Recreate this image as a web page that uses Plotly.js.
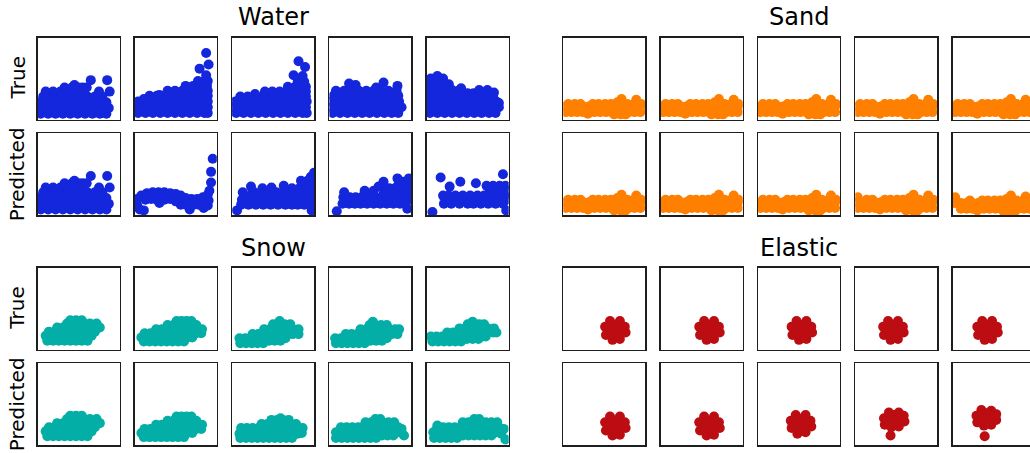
<!DOCTYPE html>
<html>
<head>
<meta charset="utf-8">
<script src="https://cdn.plot.ly/plotly-3.0.1.min.js"></script>
<style>
  html, body { margin: 0; padding: 0; overflow: hidden; background: #ffffff; }
  #plot { width: 1040px; height: 453px; }
</style>
</head>
<body>
<div id="plot"></div>
<script>
// Particle snapshots, one panel per time step. Every panel lives in a 0..100 box.
// Each row is [y, x1, x2, ...]: a y level followed by the x positions of the particles on it.

const materials = ['Water', 'Sand', 'Snow', 'Elastic'];
const rowLabels = ['True', 'Predicted'];

// ---- Water ----
const waterTrue1 = [
  [7, 4, 13, 22, 31, 40, 49, 58, 67, 76, 84],
  [14, 3, 8, 17, 26, 35, 44, 53, 62, 71, 80, 87],
  [21, 3, 12, 21, 30, 39, 48, 57, 66, 75, 84],
  [28, 7, 16, 25, 34, 43, 52, 61, 70, 79],
  [34, 10, 19, 28, 37, 46, 55, 75, 88],
  [39, 33, 42, 50, 55, 60],
  [42, 45],
  [48, 65, 85]
];
const waterTrue2 = [
  [8, 4, 13, 22, 31, 40, 49, 58, 67, 76, 85, 89],
  [15, 3, 9, 18, 27, 36, 45, 54, 63, 72, 81, 89],
  [22, 4, 12, 22, 31, 40, 49, 58, 67, 76, 85, 89],
  [25, 11],
  [29, 18, 27, 36, 45, 54, 63, 72, 81, 89],
  [30, 30],
  [35, 40, 49, 58, 67, 76, 85, 89],
  [41, 62, 71, 80, 88],
  [47, 77, 85, 89],
  [54, 87], [62, 79], [67, 90], [81, 87]
];
const waterTrue3 = [
  [8, 5, 14, 23, 32, 41, 50, 59, 68, 77, 86, 91],
  [15, 3, 10, 19, 28, 37, 46, 55, 64, 73, 82, 90],
  [22, 4, 13, 22, 31, 40, 49, 58, 67, 76, 85, 91],
  [28, 10, 19, 28, 37, 46, 55, 64, 73, 82, 90],
  [31, 28],
  [34, 40, 49, 58, 67, 76, 85, 90],
  [40, 68, 77, 86, 90],
  [46, 80, 88],
  [53, 86], [54, 75], [64, 89], [71, 81]
];
const waterTrue4 = [
  [8, 4, 13, 22, 31, 40, 49, 58, 67, 76, 84],
  [15, 3, 9, 18, 27, 36, 45, 54, 63, 72, 81, 88],
  [22, 3, 13, 22, 31, 40, 49, 58, 67, 76, 85],
  [29, 5, 14, 23, 32, 41, 50, 59, 68, 77, 84],
  [35, 8, 18, 27, 36, 45, 54, 63, 72, 82],
  [39, 57], [41, 83], [42, 32], [44, 24], [45, 66]
];
const waterTrue5 = [
  [8, 4, 13, 22, 31, 40, 49, 58, 67, 76, 84],
  [15, 3, 9, 18, 27, 36, 45, 54, 63, 72, 81, 88],
  [20, 88],
  [22, 3, 13, 22, 31, 40, 49, 58, 67, 76, 85],
  [29, 3, 9, 18, 27, 36, 45, 54, 63, 72, 81],
  [32, 50, 57],
  [33, 82],
  [36, 3, 13, 22, 31, 40, 64, 74],
  [38, 42],
  [43, 3, 10, 18, 27],
  [50, 5, 13, 20],
  [53, 13]
];
const waterPred1 = waterTrue1;
const waterPred2 = [
  [6, 11], [7, 6, 67], [9, 84],
  [12, 3, 89],
  [13, 56, 62, 72, 78],
  [15, 30, 66, 73, 80, 86],
  [17, 50],
  [18, 90],
  [19, 13, 27, 36],
  [20, 3, 20, 43, 69, 76],
  [21, 62],
  [22, 83],
  [24, 8, 56],
  [25, 89],
  [26, 50],
  [27, 15, 43],
  [28, 22, 29, 36],
  [30, 91], [40, 93], [53, 93], [69, 95]
];
const waterPred3 = [
  [6, 6, 97],
  [13, 11, 20, 29, 38, 47, 56, 65, 73, 80, 88, 96],
  [19, 12, 16, 25, 34, 43, 52, 61, 69, 77, 84, 92, 99],
  [24, 22, 31, 40, 48, 57, 64, 72, 80, 88, 97],
  [28, 13, 27, 36, 45, 54, 62, 70, 78, 86, 93],
  [33, 37, 73, 82, 90, 97],
  [34, 48],
  [35, 23],
  [36, 63],
  [38, 88, 95],
  [42, 84, 92, 98],
  [47, 96],
  [52, 100]
];
const waterPred4 = [
  [5, 9],
  [8, 95],
  [14, 16, 24, 31, 38, 46, 54, 62, 70, 78, 86],
  [18, 20, 28, 35, 42, 50, 58, 66, 74, 82, 90, 96],
  [22, 17, 25, 32, 39, 47, 55, 63, 71, 79, 87],
  [26, 66, 74, 82, 90, 97],
  [28, 18],
  [30, 43, 54, 70, 78, 86, 94],
  [33, 66, 73, 80, 88],
  [35, 60],
  [37, 84, 92, 98],
  [41, 66, 90],
  [45, 83, 97]
];
const waterPred5 = [
  [4, 7], [6, 97],
  [14, 21, 30, 40, 50, 57, 66, 75, 84, 93],
  [19, 25, 35, 45, 54, 62, 71, 80, 89, 97],
  [24, 20, 27, 35, 44, 53, 62, 70, 79, 87, 95],
  [30, 77, 85, 92, 99],
  [36, 73, 81, 89, 96],
  [35, 28], [41, 41], [39, 60], [46, 17], [50, 93]
];

// ---- Sand ----
const sandTrue = [
  [6, 62, 70, 76],
  [7, 30],
  [9, 3, 10, 17, 24, 31, 38, 45, 52, 59, 66, 73, 80, 87, 94],
  [16, 3, 10, 17, 24, 31, 38, 45, 52, 59, 66, 73, 80, 87, 94],
  [19, 6, 14, 21, 36, 43, 51, 58, 78, 86, 95],
  [21, 66],
  [24, 89],
  [25, 71]
];
const sandPred4 = [
  [6, 62, 70, 76],
  [7, 30],
  [9, 3, 10, 17, 24, 31, 38, 45, 52, 59, 66, 73, 80, 87, 94],
  [16, 3, 10, 17, 24, 31, 38, 45, 52, 59, 66, 73, 80, 87, 94],
  [19, 14, 21, 36, 43, 51, 58, 78, 86, 95],
  [21, 66],
  [22, 3],
  [24, 89],
  [25, 71]
];
const sandPred5 = [
  [5, 62, 70, 76],
  [6, 30],
  [8, 10, 17, 24, 31, 38, 45, 52, 59, 66, 73, 80, 87, 94],
  [15, 3, 10, 17, 24, 31, 38, 45, 52, 59, 66, 73, 80, 87, 94],
  [18, 21, 36, 43, 51, 58, 78, 86, 95],
  [20, 66],
  [22, 3],
  [23, 89],
  [24, 71]
];

// ---- Snow ----
const snowTrue1 = [
  [11, 12, 19, 26, 33, 40, 47, 54, 61],
  [17, 10, 17, 24, 31, 38, 45, 52, 59, 66],
  [22, 14, 21, 28, 35, 42, 49, 56, 63, 70],
  [27, 24, 31, 38, 45, 52, 59, 66, 73, 76],
  [32, 36, 43, 50, 57, 64, 72],
  [36, 40, 47, 54]
];
const snowTrue2 = [
  [10, 11, 18, 25, 32, 39, 46, 53, 60],
  [15, 8, 15, 22, 29, 36, 43, 50, 57, 64, 70],
  [20, 12, 19, 26, 33, 40, 47, 54, 61, 68, 75, 81],
  [25, 26, 33, 40, 47, 54, 61, 68, 75, 82],
  [30, 40, 47, 54, 61, 68, 75],
  [35, 51, 57, 63, 69]
];
const snowTrue3 = [
  [8, 10, 17, 24, 31, 38],
  [11, 45, 52, 59],
  [14, 9, 16, 23, 30, 37, 44, 51, 58, 65],
  [19, 25, 32, 39, 46, 53, 60, 67, 74, 81],
  [25, 39, 46, 53, 60, 67, 74, 81],
  [31, 50, 57, 64, 71],
  [35, 58]
];
const snowTrue4 = [
  [8, 8, 15, 22, 29, 36, 43],
  [11, 50, 57, 64],
  [14, 7, 14, 21, 28, 35, 42, 49, 56, 63, 70],
  [19, 20, 27, 34, 41, 48, 55, 62, 69, 76, 83],
  [25, 38, 45, 52, 59, 66, 73, 80, 85],
  [30, 49, 56, 63, 70],
  [34, 53]
];
const snowTrue5 = [
  [10, 7, 14, 21, 28, 35, 42],
  [13, 49, 56, 63],
  [16, 5, 12, 19, 26, 33, 40, 47, 54, 61, 68, 72],
  [21, 25, 32, 39, 46, 53, 60, 67, 74, 81, 85],
  [26, 40, 47, 54, 61, 68, 75, 82],
  [31, 50, 57, 64, 70],
  [34, 56]
];
const snowPred1 = snowTrue1;
const snowPred2 = snowTrue2;
const snowPred3 = [
  [9, 10, 17, 24, 31, 38, 45, 52, 59, 66, 73],
  [14, 9, 80],
  [15, 14, 21, 28, 35, 42, 49, 56, 63, 70, 77, 85],
  [21, 11, 18, 25, 32, 39, 46, 53, 60, 67, 74, 81, 86],
  [26, 36, 43, 50, 57, 64, 71, 78],
  [31, 48, 55, 62, 69],
  [33, 59]
];
const snowPred4 = [
  [9, 8, 15, 22, 29, 36, 43, 50, 57],
  [12, 64, 71, 78, 91],
  [16, 8, 15, 22, 29, 36, 43, 50, 57, 64, 71, 78, 85],
  [20, 88],
  [22, 14, 21, 28, 35, 42, 49, 56, 63, 70, 77, 84],
  [28, 44, 51, 58, 65, 72, 79],
  [32, 56, 62]
];
const snowPred5 = [
  [7, 96],
  [9, 9, 16, 23, 30, 37],
  [12, 44, 51, 58, 65, 72, 79],
  [14, 91],
  [16, 8, 15, 22, 29, 36, 43, 50, 57, 64, 71, 78, 85],
  [20, 94],
  [22, 13, 20, 27, 34, 41, 48, 55, 62, 69, 76, 83, 88],
  [24, 13],
  [28, 44, 51, 58, 65, 72, 79, 86],
  [32, 58, 64]
];

// ---- Elastic ----
const elasticTrue1 = [[12, 60], [13, 69], [18, 52, 60, 66], [21, 76], [24, 63], [25, 57, 69], [28, 51, 75], [30, 63], [35, 57, 69]];
const elasticTrue2 = [[12, 56], [13, 65], [18, 48, 56, 62], [21, 72], [24, 59], [25, 53, 65], [28, 47, 71], [30, 59], [35, 53, 65]];
const elasticTrue3 = [[12, 50], [13, 59], [18, 42, 50, 56], [21, 66], [24, 53], [25, 47, 59], [28, 41, 65], [30, 53], [35, 47, 59]];
const elasticTrue4 = [[12, 43], [13, 52], [18, 35, 43, 49], [21, 59], [24, 46], [25, 40, 52], [28, 34, 58], [30, 46], [35, 40, 52]];
const elasticTrue5 = [[12, 39], [13, 48], [18, 31, 39, 45], [21, 55], [24, 42], [25, 36, 48], [28, 30, 54], [30, 42], [35, 36, 48]];
const elasticPred1 = elasticTrue1;
const elasticPred2 = elasticTrue2;
const elasticPred3 = [[14, 48], [16, 58], [21, 41, 49, 55], [23, 65], [26, 52], [27, 46, 58], [30, 40, 64], [32, 52], [37, 46, 58]];
const elasticPred4 = [[12, 43], [22, 44], [23, 53], [25, 36], [27, 44, 50], [29, 60], [32, 41, 47, 53], [33, 35], [36, 59], [37, 47], [40, 41, 53]];
const elasticPred5 = [[11, 39], [24, 38], [25, 47], [28, 30], [29, 38, 44], [31, 53], [34, 35, 41, 47], [36, 29], [38, 53], [39, 41], [42, 47], [43, 35]];

const panelSets = [
  [[waterTrue1, waterTrue2, waterTrue3, waterTrue4, waterTrue5],
   [waterPred1, waterPred2, waterPred3, waterPred4, waterPred5]],
  [[sandTrue, sandTrue, sandTrue, sandTrue, sandTrue],
   [sandTrue, sandTrue, sandTrue, sandPred4, sandPred5]],
  [[snowTrue1, snowTrue2, snowTrue3, snowTrue4, snowTrue5],
   [snowPred1, snowPred2, snowPred3, snowPred4, snowPred5]],
  [[elasticTrue1, elasticTrue2, elasticTrue3, elasticTrue4, elasticTrue5],
   [elasticPred1, elasticPred2, elasticPred3, elasticPred4, elasticPred5]]
];

// ---- styling & layout geometry (pixels) ----
const materialColors = ['#1427dc', '#ff8000', '#03aea6', '#bc0d12'];
const W = 1040, H = 453;
const panelSize = 82;
const markerPx = 10;
const leftCols = [37.5, 134.8, 232.1, 329.4, 426.7];
const rightCols = [563.3, 660.7, 758.0, 855.3, 952.7];
const upperRows = [37.5, 133.3];
const lowerRows = [267.7, 363.3];

function expand(rows) {
  const x = [], y = [];
  rows.forEach(r => { for (let k = 1; k < r.length; k++) { x.push(r[k]); y.push(r[0]); } });
  return { x, y };
}

const traces = [];
const layout = {
  width: W, height: H,
  margin: { l: 0, r: 0, t: 0, b: 0 },
  paper_bgcolor: '#ffffff', plot_bgcolor: '#ffffff',
  showlegend: false,
  font: { family: 'DejaVu Sans, sans-serif', color: '#000000' },
  annotations: []
};

materials.forEach((mat, g) => {
  const cols = (g % 2 === 0) ? leftCols : rightCols;
  const rowsTop = (g < 2) ? upperRows : lowerRows;
  for (let r = 0; r < 2; r++) {
    for (let c = 0; c < 5; c++) {
      const idx = g * 10 + r * 5 + c + 1;
      const sx = idx === 1 ? '' : String(idx);
      const pts = expand(panelSets[g][r][c]);
      traces.push({
        type: 'scatter', mode: 'markers',
        x: pts.x, y: pts.y,
        xaxis: 'x' + sx, yaxis: 'y' + sx,
        marker: { size: markerPx, color: materialColors[g], line: { width: 0 } },
        hoverinfo: 'skip', cliponaxis: true
      });
      const x0 = cols[c], y0 = rowsTop[r];
      const axisCommon = {
        range: [0, 100], showgrid: false, zeroline: false, showticklabels: false,
        ticks: '', showline: true, mirror: true, linecolor: '#1e1e1e', linewidth: 1.4,
        fixedrange: true
      };
      layout['xaxis' + sx] = Object.assign({}, axisCommon, {
        domain: [x0 / W, (x0 + panelSize) / W], anchor: 'y' + sx
      });
      layout['yaxis' + sx] = Object.assign({}, axisCommon, {
        domain: [1 - (y0 + panelSize) / H, 1 - y0 / H], anchor: 'x' + sx
      });
    }
  }
  // material title above its block
  const cx = (cols[0] + cols[4] + panelSize) / 2;
  layout.annotations.push({
    text: mat, xref: 'paper', yref: 'paper',
    x: cx / W, y: 1 - (rowsTop[0] - 20) / H,
    xanchor: 'center', yanchor: 'middle', showarrow: false,
    font: { size: 24, family: 'DejaVu Sans, sans-serif', color: '#000000' }
  });
  // row labels on the left-hand blocks
  if (g % 2 === 0) {
    rowLabels.forEach((lab, r) => {
      layout.annotations.push({
        text: lab, xref: 'paper', yref: 'paper',
        x: 17 / W, y: 1 - (rowsTop[r] + panelSize / 2) / H,
        xanchor: 'center', yanchor: 'middle', textangle: -90, showarrow: false,
        font: { size: 20, family: 'DejaVu Sans, sans-serif', color: '#000000' }
      });
    });
  }
});

Plotly.newPlot('plot', traces, layout, { staticPlot: true, displayModeBar: false });
</script>
</body>
</html>
